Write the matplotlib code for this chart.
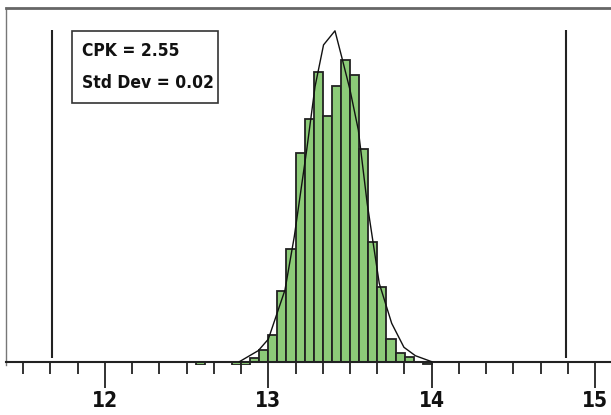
import numpy as np
import matplotlib
matplotlib.use("Agg")
import matplotlib.pyplot as plt
from matplotlib.ticker import MultipleLocator
from matplotlib.patches import Rectangle

# histogram bins (bin index relative to 13.0, width ~ 1/18)
bin_start = 13.0
bin_width = 0.0556
bin_index = list(range(-8, 18))
counts = [-1, 0, 0, 0, -1, -1, 1.4, 3.9, 8.9, 23.7, 37.5, 69.7, 80.8, 96.7,
          81.9, 91.9, 100.6, 95.6, 70.8, 39.8, 25.0, 7.5, 2.8, 1.5, 0, -0.9]

# fitted curve
curve_x = [12.823, 12.939, 13.0, 13.102, 13.159, 13.235, 13.286, 13.338, 13.408,
           13.451, 13.5, 13.551, 13.605, 13.679, 13.755, 13.83, 13.90, 14.0]
curve_y = [0, 3.7, 7.5, 23.9, 41.7, 70.6, 91.7, 105.6, 110.3,
           101.2, 90.6, 77.2, 52.8, 26.1, 12.8, 4.8, 2.0, 0]

lsl = 11.676
usl = 14.822
x_ticks = [12, 13, 14, 15]
stats_lines = ["CPK = 2.55", "Std Dev = 0.02"]

fig = plt.figure(figsize=(6.11, 4.15), dpi=100)
ax = fig.add_axes([6 / 611, 1 - 365.3 / 415, 1 - 6 / 611, (365.3 - 8) / 415])

lefts = [bin_start + k * bin_width for k in bin_index]
bl = [l for l, c in zip(lefts, counts) if c != 0]
bc = [c for c in counts if c != 0]
ax.bar(bl, bc, width=bin_width, align='edge', color='#8ccb78',
       edgecolor='#222222', linewidth=1.3, zorder=2)

ax.plot(curve_x, curve_y, color='#111111', linewidth=1.0, zorder=3)

ax.vlines([lsl, usl], 1.2, 110.6, color='#222222', linewidth=1.5, zorder=2)

ax.set_xlim(11.395, 15.097)
ax.set_ylim(-1.2, 117.9)

ax.spines['right'].set_visible(False)
ax.spines['top'].set_color('#666666')
ax.spines['top'].set_linewidth(2)
ax.spines['left'].set_color('#777777')
ax.spines['left'].set_linewidth(1)
ax.spines['bottom'].set_position(('data', 0))
ax.spines['bottom'].set_color('#222222')
ax.spines['bottom'].set_linewidth(1.5)

ax.set_yticks([])
ax.set_xticks(x_ticks)
ax.xaxis.set_minor_locator(MultipleLocator(1 / 6))
ax.tick_params(axis='x', which='major', direction='out', length=19, width=1.3,
               color='#222222', pad=2)
ax.tick_params(axis='x', which='minor', direction='out', length=8.5, width=1.3,
               color='#222222')
for lab in ax.get_xticklabels():
    lab.set_family('DejaVu Sans')
    lab.set_stretch('condensed')
    lab.set_fontweight('bold')
    lab.set_fontsize(15)
    lab.set_color('#111111')

# stats box
ax.add_patch(Rectangle((0.109, 0.7341), 0.241, 0.2015, transform=ax.transAxes,
                       facecolor='white', edgecolor='#333333', linewidth=1.2,
                       zorder=4))
for txt, yy in zip(stats_lines, [0.8797, 0.790]):
    ax.text(0.1256, yy, txt, transform=ax.transAxes, ha='left', va='center',
            family='DejaVu Sans', stretch='condensed', fontweight='bold',
            fontsize=12.5, color='#111111', zorder=5)

fig.savefig("out.png", dpi=100)
